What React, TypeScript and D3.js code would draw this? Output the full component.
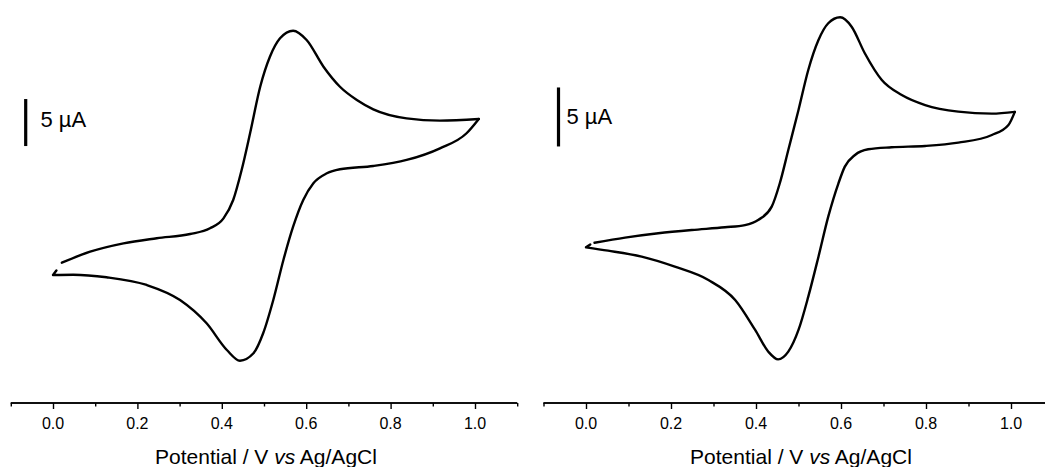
import React, { useRef, useEffect } from "react";
import * as d3 from "d3";

// cyclic voltammograms, potential in V, current in µA
const leftForwardV = [0.021, 0.088, 0.167, 0.246, 0.325, 0.372, 0.404, 0.427, 0.447, 0.467, 0.491, 0.514, 0.538, 0.569, 0.601, 0.641, 0.68, 0.72, 0.759, 0.838, 0.917, 1.009];
const leftForwardI = [-1.67, -0.5, 0.39, 0.93, 1.38, 1.99, 3.05, 5.0, 8.19, 12.1, 17.05, 20.24, 22.2, 23.01, 22.02, 19.18, 17.05, 15.64, 14.65, 13.69, 13.44, 13.62];
const leftReverseV = [1.009, 0.98, 0.917, 0.838, 0.759, 0.68, 0.649, 0.617, 0.593, 0.569, 0.546, 0.522, 0.498, 0.475, 0.443, 0.412, 0.364, 0.301, 0.222, 0.127, 0.048, 0.0, 0.008];
const leftReverseI = [13.62, 12.1, 10.5, 9.26, 8.62, 8.27, 7.84, 6.78, 5.0, 2.16, -1.38, -5.64, -9.18, -11.31, -12.1, -10.96, -8.12, -5.64, -4.04, -3.22, -2.95, -2.98, -2.5];

const rightForwardV = [0.02, 0.092, 0.17, 0.249, 0.327, 0.374, 0.405, 0.437, 0.456, 0.476, 0.5, 0.523, 0.547, 0.57, 0.598, 0.625, 0.656, 0.696, 0.743, 0.798, 0.876, 0.955, 1.009];
const rightForwardI = [0.36, 0.79, 1.16, 1.44, 1.67, 1.86, 2.29, 3.42, 5.4, 8.22, 11.61, 15.0, 17.54, 18.96, 19.47, 18.67, 16.42, 14.15, 12.88, 12.03, 11.47, 11.3, 11.45];
const rightReverseV = [1.009, 0.994, 0.955, 0.876, 0.798, 0.719, 0.664, 0.633, 0.609, 0.594, 0.57, 0.547, 0.523, 0.5, 0.476, 0.452, 0.429, 0.398, 0.351, 0.288, 0.209, 0.131, 0.052, 0.0, 0.01];
const rightReverseI = [11.45, 10.34, 9.49, 8.84, 8.56, 8.45, 8.28, 7.8, 6.81, 5.4, 2.57, -0.82, -4.21, -7.03, -8.87, -9.52, -8.87, -7.03, -4.49, -2.8, -1.67, -0.82, -0.31, -0.03, 0.22];

const majorTicks = [0, 0.2, 0.4, 0.6, 0.8, 1.0];
const minorTicks = [-0.1, 0.1, 0.3, 0.5, 0.7, 0.9, 1.1];
const xTitle = ["Potential / V ", "vs", " Ag/AgCl"];
const scaleLabel = "5 µA";

const FONT = "'Liberation Sans', Arial, sans-serif";

const panels = [
  {
    fv: leftForwardV, fi: leftForwardI, rv: leftReverseV, ri: leftReverseI,
    xRange: [53, 475], yDomain: [-15, 25], yRange: [388, 12],
    barX: 25.7, barBase: 10.74, textX: 40.5, textY: 126.5, titleX: 266,
  },
  {
    fv: rightForwardV, fi: rightForwardI, rv: rightReverseV, ri: rightReverseI,
    xRange: [586, 1011], yDomain: [-12, 20], yRange: [388.6, 11],
    barX: 558.5, barBase: 8.52, textX: 566.5, textY: 123.5, titleX: 801,
  },
];

const App = () => {
  const svgRef = useRef<SVGSVGElement>(null);

  useEffect(() => {
    if (!svgRef.current) return;
    const svg = d3.select(svgRef.current);
    svg.selectAll("*").remove();

    panels.forEach((p) => {
      const x = d3.scaleLinear().domain([0, 1]).range(p.xRange);
      const y = d3.scaleLinear().domain(p.yDomain).range(p.yRange);
      const g = svg.append("g");

      const line = d3
        .line<[number, number]>()
        .x((d) => x(d[0]))
        .y((d) => y(d[1]))
        .curve(d3.curveMonotoneX);

      const fwd = p.fv.map((v, i) => [v, p.fi[i]] as [number, number]);
      const rev = p.rv.map((v, i) => [v, p.ri[i]] as [number, number]);
      // the last reverse point is the little hook at the start potential
      const hook = rev[rev.length - 1];
      const paths = [
        line(fwd),
        line(rev.slice(0, -1)) + `L${x(hook[0])},${y(hook[1])}`,
      ];
      paths.forEach((d) => {
        g.append("path")
          .attr("d", d)
          .attr("fill", "none")
          .attr("stroke", "#000")
          .attr("stroke-width", 2.4)
          .attr("stroke-linejoin", "round")
          .attr("stroke-linecap", "round");
      });

      // x axis, major + minor ticks
      const axisY = 403;
      const major = g.append("g").attr("transform", `translate(0,${axisY})`)
        .call(d3.axisBottom(x).tickValues(majorTicks).tickSize(6).tickSizeOuter(0).tickFormat(() => ""));
      const minor = g.append("g").attr("transform", `translate(0,${axisY})`)
        .call(d3.axisBottom(x).tickValues(minorTicks).tickSize(3.5).tickSizeOuter(0).tickFormat(() => ""));
      [major, minor].forEach((a) => {
        a.selectAll("line").attr("stroke", "#000").attr("stroke-width", 1.4);
        a.select(".domain").attr("stroke", "#000").attr("stroke-width", 1.4)
          .attr("d", `M${x(-0.1)},0H${x(1.1)}`);
      });

      // tick labels
      g.append("g")
        .selectAll("text")
        .data(majorTicks)
        .join("text")
        .attr("x", (d) => x(d))
        .attr("y", 429)
        .attr("text-anchor", "middle")
        .attr("font-family", FONT)
        .attr("font-size", 16)
        .attr("fill", "#000")
        .text((d) => d3.format(".1f")(d));

      const title = g.append("text")
        .attr("x", p.titleX).attr("y", 464)
        .attr("text-anchor", "middle")
        .attr("font-family", FONT).attr("font-size", 21).attr("fill", "#000");
      title.append("tspan").text(xTitle[0]);
      title.append("tspan").attr("font-style", "italic").text(xTitle[1]);
      title.append("tspan").text(xTitle[2]);

      // scale bar 5 µA
      g.append("line")
        .attr("x1", p.barX).attr("x2", p.barX)
        .attr("y1", y(p.barBase)).attr("y2", y(p.barBase + 5))
        .attr("stroke", "#000").attr("stroke-width", 3.2);
      g.append("text")
        .attr("x", p.textX).attr("y", p.textY)
        .attr("font-family", FONT).attr("font-size", 22).attr("fill", "#000")
        .text(scaleLabel);
    });
  }, []);

  return (
    <svg
      ref={svgRef}
      width={1045}
      height={467}
      style={{ position: "absolute", left: 0, top: 0, background: "#fff" }}
    />
  );
};

export default App;
